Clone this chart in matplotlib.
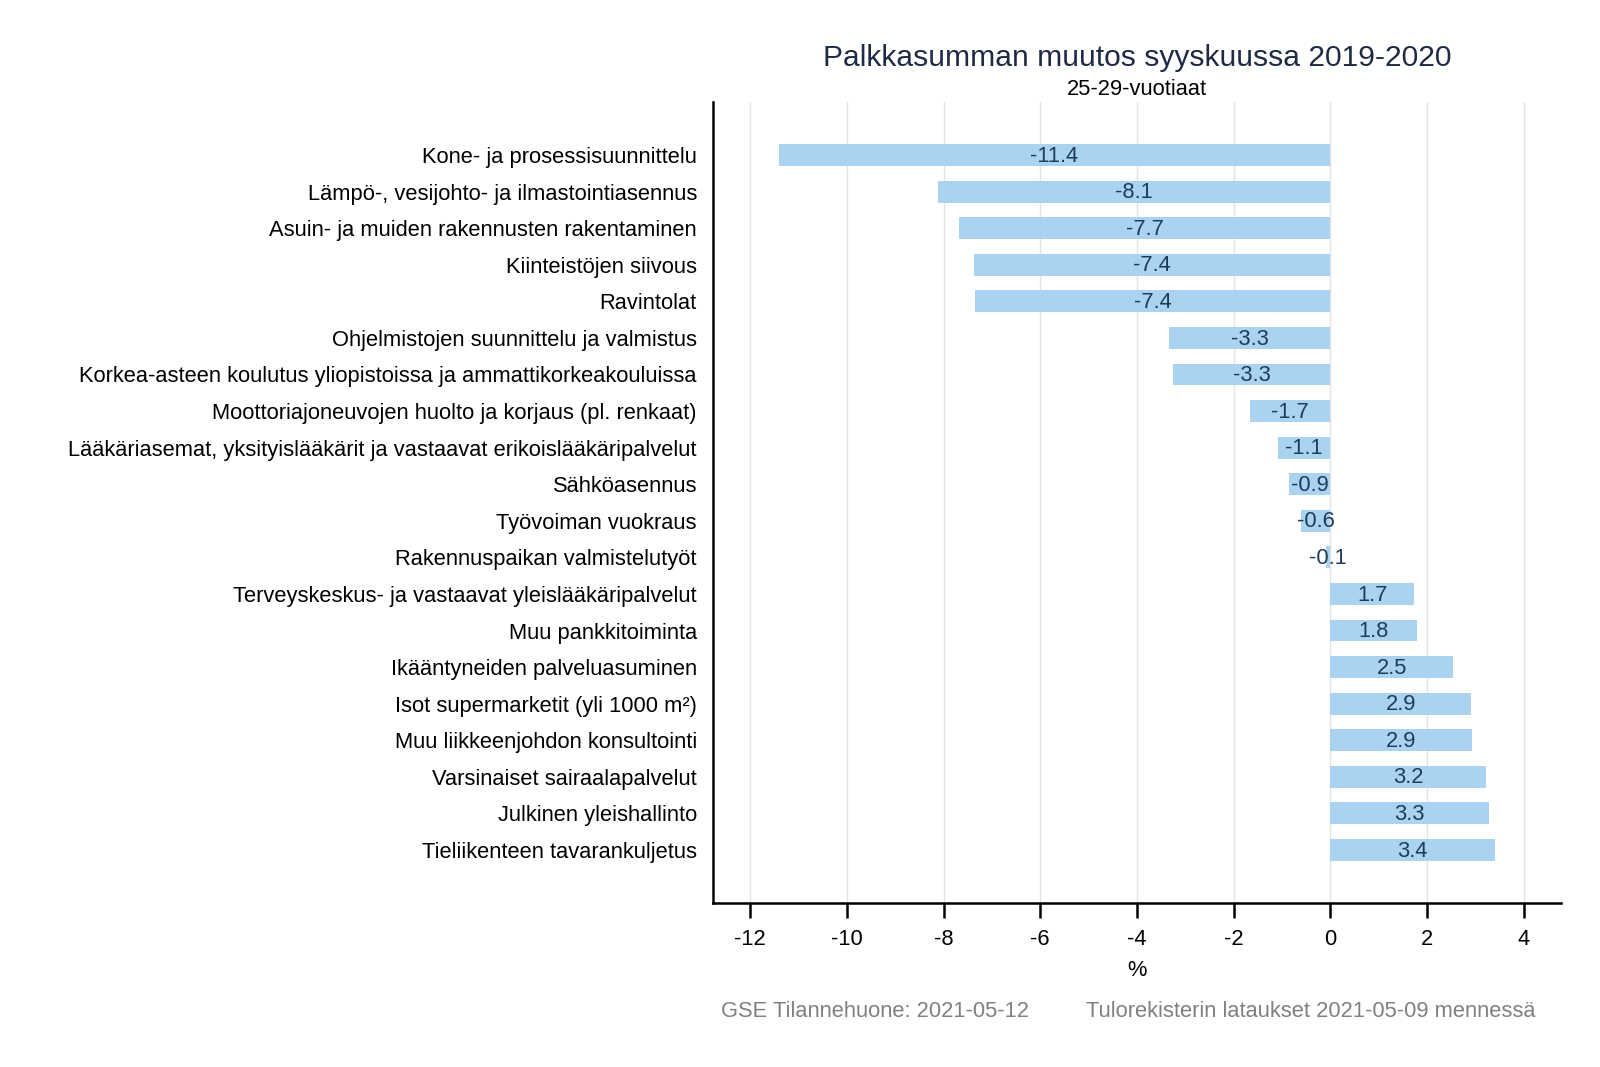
import matplotlib
matplotlib.use("Agg")
import matplotlib.pyplot as plt

categories = [
    "Kone- ja prosessisuunnittelu",
    "Lämpö-, vesijohto- ja ilmastointiasennus",
    "Asuin- ja muiden rakennusten rakentaminen",
    "Kiinteistöjen siivous",
    "Ravintolat",
    "Ohjelmistojen suunnittelu ja valmistus",
    "Korkea-asteen koulutus yliopistoissa ja ammattikorkeakouluissa",
    "Moottoriajoneuvojen huolto ja korjaus (pl. renkaat)",
    "Lääkäriasemat, yksityislääkärit ja vastaavat erikoislääkäripalvelut",
    "Sähköasennus",
    "Työvoiman vuokraus",
    "Rakennuspaikan valmistelutyöt",
    "Terveyskeskus- ja vastaavat yleislääkäripalvelut",
    "Muu pankkitoiminta",
    "Ikääntyneiden palveluasuminen",
    "Isot supermarketit (yli 1000 m²)",
    "Muu liikkeenjohdon konsultointi",
    "Varsinaiset sairaalapalvelut",
    "Julkinen yleishallinto",
    "Tieliikenteen tavarankuljetus",
]
values = [-11.41, -8.12, -7.68, -7.38, -7.36, -3.33, -3.26, -1.67, -1.08, -0.86,
          -0.61, -0.09, 1.73, 1.79, 2.54, 2.91, 2.94, 3.22, 3.28, 3.40]
xticks = [-12, -10, -8, -6, -4, -2, 0, 2, 4]

title = "Palkkasumman muutos syyskuussa 2019-2020"
subtitle = "25-29-vuotiaat"
xlabel = "%"
footer_left = "GSE Tilannehuone: 2021-05-12"
footer_right = "Tulorekisterin lataukset 2021-05-09 mennessä"

plt.rcParams['font.family'] = ['Liberation Sans', 'DejaVu Sans']

fig = plt.figure(figsize=(16, 10.67), dpi=100)
ax = fig.add_axes([0.4456, 0.1537, 0.53, 0.7507])

ypos = list(range(len(categories)))
bar_color = "#a9d3f0"
label_color = "#1f3b5c"
fs = 15.75
ax.barh(ypos, values, height=0.6, color=bar_color, zorder=2)
for y, v in zip(ypos, values):
    ax.text(v / 2, y + 0.03, f"{v:.1f}", ha="center", va="center",
            fontsize=fs, color=label_color, zorder=3)

ax.set_ylim(len(categories) - 1 + 1.45, -1.45)
ax.set_xlim(-12.77, 4.77)
ax.set_yticks(ypos)
ax.set_yticklabels(categories, fontsize=fs, color="black")
ax.tick_params(axis="y", length=0, pad=11.5)
ax.set_xticks(xticks)
ax.set_xticklabels([str(t) for t in xticks], fontsize=fs)
ax.tick_params(axis="x", length=11, width=1.8, pad=8, direction="out")
ax.set_xlabel(xlabel, fontsize=fs, labelpad=7)

ax.grid(axis="x", color="#e3e3e3", linewidth=1, zorder=0)
ax.set_axisbelow(True)
for s in ["top", "right"]:
    ax.spines[s].set_visible(False)
for s in ["left", "bottom"]:
    ax.spines[s].set_linewidth(1.8)
    ax.spines[s].set_color("black")

cx = 0.4456 + 0.53 / 2
fig.text(cx, 0.946, title, ha="center", va="center", fontsize=21.6, color="#1f2a44")
fig.text(cx, 0.9165, subtitle, ha="center", va="center", fontsize=fs, color="black")
fig.text(0.4505, 0.052, footer_left, ha="left", va="center", fontsize=fs, color="#808080")
fig.text(0.9594, 0.052, footer_right, ha="right", va="center", fontsize=fs, color="#808080")

fig.savefig("out.png", dpi=100)
